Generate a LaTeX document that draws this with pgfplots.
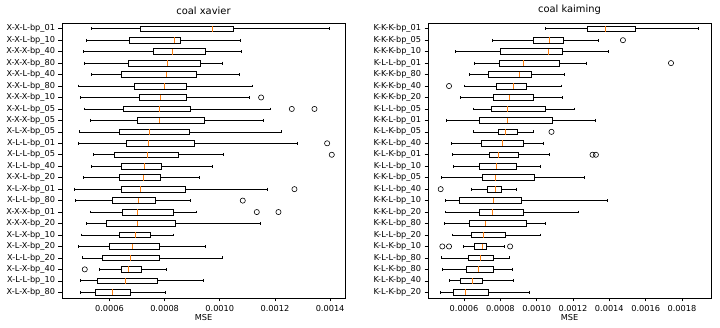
\documentclass[border=0pt]{standalone}
\usepackage{fontspec}
\setmainfont{DejaVu Sans}
\usepackage{pgfplots}
\pgfplotsset{compat=1.18}
\usepgfplotslibrary{statistics}
\definecolor{mplorange}{HTML}{FF7F0E}
\newcommand{\bx}[6]{\addplot[black, line width=0.7pt, boxplot prepared={draw position=#1, lower whisker=#2, lower quartile=#3, median=#4, upper quartile=#5, upper whisker=#6}] coordinates {};}
\pgfplotsset{
  myaxis/.style={
    scale only axis, width=283pt, height=275pt,
    y dir=reverse, ymin=0.5, ymax=24.5,
    ytick={1,...,24},
    axis line style={black, line width=0.6pt},
    tick align=outside, major tick length=3.5pt,
    tick style={black, line width=0.6pt},
    xtick pos=bottom, ytick pos=left,
    font=\fontsize{8.2}{9}\selectfont,
    ticklabel style={font=\fontsize{8.2}{9}\selectfont},
    /pgf/number format/assume math mode=true,
    title style={font=\fontsize{9.9}{11}\selectfont, anchor=south, yshift=-1pt},
    xlabel style={at={(axis description cs:0.5,0)}, anchor=center, yshift=-20pt},
    xlabel={MSE},
    boxplot/box extend=0.5,
    boxplot/whisker extend=0.25,
    boxplot/every median/.style={draw=mplorange, line width=0.8pt},
    clip=false,
  },
  outl/.style={only marks, mark=o, mark size=2.6pt, mark options={black, line width=0.6pt}},
}
\begin{document}
\begin{tikzpicture}
\useasboundingbox (0,0) rectangle (720pt,328pt);
\begin{axis}[myaxis, at={(62pt,30pt)}, anchor=south west,
  xmin=4.28, xmax=14.54, title={coal xavier},
  xtick={6,8,10,12,14}, xticklabels={0.0006,0.0008,0.0010,0.0012,0.0014},
  yticklabels={X-X-L-bp\_01,X-X-L-bp\_10,X-X-X-bp\_40,X-X-X-bp\_80,X-X-L-bp\_40,X-X-L-bp\_80,X-X-X-bp\_10,X-X-L-bp\_05,X-X-X-bp\_05,X-L-X-bp\_05,X-L-L-bp\_01,X-L-L-bp\_05,X-L-L-bp\_40,X-X-L-bp\_20,X-L-X-bp\_01,X-L-L-bp\_80,X-X-X-bp\_01,X-X-X-bp\_20,X-L-X-bp\_10,X-L-X-bp\_20,X-L-L-bp\_20,X-L-X-bp\_40,X-L-L-bp\_10,X-L-X-bp\_80}]
\bx{1}{5.335}{7.112}{9.734}{10.496}{13.964}
\bx{2}{5.178}{6.737}{8.369}{8.574}{10.749}
\bx{3}{5.045}{7.595}{8.296}{9.468}{10.774}
\bx{4}{5.106}{6.701}{8.115}{9.311}{10.109}
\bx{5}{5.359}{6.435}{8.054}{9.154}{10.701}
\bx{6}{4.864}{6.918}{7.994}{8.792}{11.184}
\bx{7}{4.961}{7.076}{7.861}{8.792}{11.064}
\bx{8}{5.106}{6.520}{7.813}{8.937}{11.825}
\bx{9}{5.299}{7.015}{7.801}{9.444}{11.571}
\bx{10}{4.900}{6.375}{7.438}{8.912}{12.248}
\bx{11}{4.864}{6.616}{7.414}{9.094}{12.804}
\bx{12}{5.420}{6.181}{7.378}{8.490}{10.133}
\bx{13}{5.359}{6.435}{7.257}{7.873}{9.722}
\bx{14}{5.045}{6.363}{7.233}{7.849}{9.251}
\bx{15}{4.743}{6.435}{7.112}{8.755}{11.740}
\bx{16}{4.779}{6.097}{7.063}{7.668}{8.949}
\bx{17}{5.299}{6.471}{7.015}{8.332}{9.154}
\bx{18}{5.166}{5.903}{7.015}{8.393}{11.487}
\bx{19}{4.985}{6.363}{6.955}{7.474}{8.332}
\bx{20}{4.864}{6.000}{6.834}{7.813}{9.493}
\bx{21}{5.021}{5.758}{6.761}{7.813}{10.109}
\bx{22}{5.637}{6.435}{6.677}{7.160}{8.054}
\bx{23}{4.961}{5.565}{6.580}{7.752}{9.408}
\bx{24}{4.961}{5.480}{6.121}{6.773}{8.018}
\addplot[outl] coordinates {(11.499,7) (12.611,8) (13.432,8) (13.892,11) (14.061,12) (12.707,15) (10.834,16) (11.342,17) (12.127,17) (5.106,22)};
\end{axis}
\begin{axis}[myaxis, at={(428pt,30pt)}, anchor=south west,
  xmin=4.015, xmax=19.60, title={coal kaiming},
  xtick={6,8,10,12,14,16,18}, xticklabels={0.0006,0.0008,0.0010,0.0012,0.0014,0.0016,0.0018},
  yticklabels={K-K-K-bp\_01,K-K-K-bp\_05,K-K-K-bp\_10,K-L-L-bp\_01,K-K-K-bp\_80,K-K-K-bp\_40,K-K-K-bp\_20,K-L-L-bp\_05,K-K-L-bp\_01,K-L-K-bp\_05,K-K-L-bp\_40,K-L-K-bp\_01,K-L-L-bp\_10,K-K-L-bp\_05,K-L-L-bp\_40,K-K-L-bp\_10,K-K-L-bp\_20,K-K-L-bp\_80,K-L-L-bp\_20,K-L-K-bp\_10,K-L-L-bp\_80,K-L-K-bp\_80,K-L-K-bp\_40,K-L-K-bp\_20}]
\bx{1}{10.504}{12.783}{13.794}{15.448}{18.923}
\bx{2}{7.562}{9.805}{10.687}{11.478}{13.390}
\bx{3}{5.504}{8.022}{10.632}{11.386}{13.941}
\bx{4}{6.588}{7.967}{9.272}{11.257}{12.709}
\bx{5}{6.294}{7.360}{9.070}{9.713}{11.533}
\bx{6}{6.018}{7.783}{8.721}{9.437}{11.349}
\bx{7}{5.779}{7.599}{8.500}{9.805}{11.386}
\bx{8}{6.533}{7.507}{8.390}{10.504}{12.084}
\bx{9}{5.026}{6.846}{8.390}{10.871}{13.224}
\bx{10}{6.533}{7.912}{8.298}{8.923}{9.805}
\bx{11}{5.320}{6.937}{8.114}{9.290}{10.356}
\bx{12}{5.357}{7.397}{7.893}{9.015}{10.724}
\bx{13}{5.412}{6.846}{7.801}{8.886}{10.209}
\bx{14}{4.750}{6.993}{7.746}{9.897}{12.618}
\bx{15}{6.386}{7.268}{7.746}{8.040}{8.904}
\bx{16}{4.952}{5.724}{7.636}{9.162}{13.904}
\bx{17}{4.952}{6.846}{7.562}{9.254}{12.287}
\bx{18}{4.897}{6.294}{7.176}{9.437}{10.485}
\bx{19}{5.357}{6.386}{7.048}{8.279}{10.209}
\bx{20}{5.982}{6.570}{7.011}{7.250}{8.224}
\bx{21}{4.750}{6.239}{6.901}{7.636}{8.500}
\bx{22}{4.805}{6.110}{6.809}{7.636}{8.665}
\bx{23}{5.210}{5.779}{6.441}{7.011}{8.702}
\bx{24}{4.713}{5.412}{6.092}{7.342}{9.621}
\addplot[outl] coordinates {(14.750,2) (17.397,4) (5.173,6) (10.816,10) (13.077,12) (13.261,12) (4.713,15) (4.805,20) (5.173,20) (8.537,20)};
\end{axis}
\end{tikzpicture}
\end{document}
